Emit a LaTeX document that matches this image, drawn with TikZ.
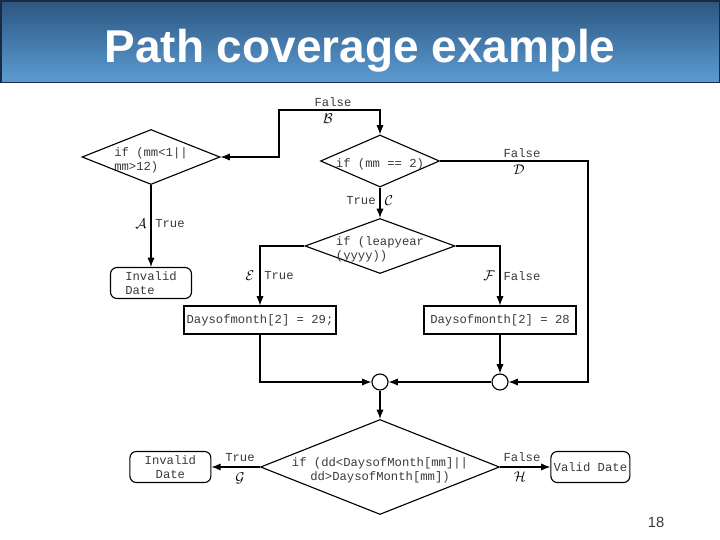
\documentclass[tikz,border=0pt]{standalone}
\usepackage{fontspec}
\setmainfont{Liberation Sans}
\newfontfamily\codefont{Liberation Mono}
\definecolor{barTop}{HTML}{2C5680}
\definecolor{barBottom}{HTML}{5C9CD3}
\definecolor{barEdge}{HTML}{1A2A40}
\definecolor{inktext}{HTML}{3A3A3A}
\usetikzlibrary{shapes.geometric, arrows.meta}
\newcommand{\flatbox}[2][l]{\makebox[0pt]{\smash{\raisebox{-5pt}{\begin{tabular}{@{}#1@{}}#2\end{tabular}}}}}

\begin{document}
\begin{tikzpicture}[
				>={Latex[length=2.3mm,width=1.8mm]},
				flow/.style={line width=0.8pt},
				decision/.style={draw, diamond, line width=0.8pt, inner sep=0pt, text=inktext, font=\codefont\fontsize{8.7}{9.5}\selectfont},
				process/.style={draw, line width=0.8pt, minimum width=3.8cm, minimum height=0.7cm, inner sep=1pt, text=inktext, font=\codefont\fontsize{8.7}{9.5}\selectfont},
				terminal/.style={draw, rounded corners=1.6mm, line width=0.8pt, minimum width=2.025cm, minimum height=0.775cm, inner sep=1pt, text=inktext, font=\codefont\fontsize{8.7}{9.5}\selectfont},
				joint/.style={draw, circle, line width=0.8pt, minimum size=0.4cm, inner sep=0pt},
				tag/.style={text=inktext, inner sep=0pt, font=\codefont\fontsize{8.7}{9.5}\selectfont},
				letter/.style={inner sep=0pt, font=\fontsize{10}{12}\selectfont}
			]
			\useasboundingbox (0,0) rectangle (18,-13.5);
			% Title bar
			\shade[top color=barTop, bottom color=barBottom, draw=barEdge, line width=1pt] (0.02,-0.02) rectangle (17.98,-2.06);
			\node[text=white, anchor=base, font=\bfseries\fontsize{32.7}{36}\selectfont] (title) at (9,-1.55) {Path coverage example};
			% Decisions
			\node[decision, minimum width=3.45cm, minimum height=1.375cm] (range) at (3.775,-3.925) {\flatbox{if (mm<1||\\mm>12)}};
			\node[decision, minimum width=2.975cm, minimum height=1.3cm] (feb) at (9.5,-4.025) {\flatbox{if (mm == 2)}};
			\node[decision, minimum width=3.75cm, minimum height=1.375cm] (leap) at (9.5,-6.15) {\flatbox{if (leapyear\\(yyyy))}};
			\node[decision, minimum width=5.975cm, minimum height=2.375cm] (days) at (9.5,-11.675) {\flatbox[c]{if (dd<DaysofMonth[mm]||\\dd>DaysofMonth[mm])}};
			% Assignments
			\node[process] (leap29) at (6.5,-8.0) {Daysofmonth[2] = 29;};
			\node[process] (leap28) at (12.5,-8.0) {Daysofmonth[2] = 28};
			% Results
			\node[terminal, align=left] (inv1) at (3.775,-7.075) {Invalid\\Date};
			\node[terminal, align=center] (inv2) at (4.26,-11.675) {Invalid\\Date};
			\node[terminal, minimum width=1.975cm] (valid) at (14.76,-11.675) {Valid Date};
			% Joints
			\foreach \n/\x in {merge1/9.5, merge2/12.5} {
					\node[joint] (\n) at (\x,-9.55) {};
				}
			\coordinate (bendB) at (6.975,-2.75);
			\coordinate (bendD) at (14.7,-9.55);
			% Connectors
			\draw[flow, <->] (range.east) -| (bendB) -| (feb.north);
			\draw[flow, ->] (range.south) -- (inv1.north);
			\draw[flow, ->] (feb.south) -- (leap.north);
			\draw[flow, ->] (feb.east) -| (bendD) -- (merge2.east);
			\draw[flow, ->] (leap.west) -| (leap29.north);
			\draw[flow, ->] (leap.east) -| (leap28.north);
			\draw[flow, ->] (leap29.south) |- (merge1.west);
			\draw[flow, ->] (leap28.south) -- (merge2.north);
			\draw[flow, ->] (merge2.west) -- (merge1.east);
			\draw[flow, ->] (merge1.south) -- (days.north);
			\draw[flow, ->] (days.west) -- (inv2.east);
			\draw[flow, ->] (days.east) -- (valid.west);
			% Branch labels
			\node[tag] (tB) at (8.325,-2.55) {False};
			\node[letter] (lB) at (8.2,-2.975) {$\mathcal{B}$};
			\node[tag] (tA) at (4.25,-5.6) {True};
			\node[letter] (lA) at (3.525,-5.6) {$\mathcal{A}$};
			\node[tag] (tC) at (9.025,-5.025) {True};
			\node[letter] (lC) at (9.725,-5.025) {$\mathcal{C}$};
			\node[tag] (tD) at (13.05,-3.825) {False};
			\node[letter] (lD) at (12.975,-4.25) {$\mathcal{D}$};
			\node[tag] (tE) at (6.975,-6.9) {True};
			\node[letter] (lE) at (6.25,-6.9) {$\mathcal{E}$};
			\node[tag] (tF) at (13.05,-6.9) {False};
			\node[letter] (lF) at (12.225,-6.9) {$\mathcal{F}$};
			\node[tag] (tG) at (6.0,-11.45) {True};
			\node[letter] (lG) at (6.0,-11.95) {$\mathcal{G}$};
			\node[tag] (tH) at (13.05,-11.425) {False};
			\node[letter] (lH) at (13.0,-11.925) {$\mathcal{H}$};
			% Page number
			\node[text=inktext, font=\fontsize{10.5}{12}\selectfont] (page) at (16.4,-13.05) {18};
		\end{tikzpicture}
\end{document}
